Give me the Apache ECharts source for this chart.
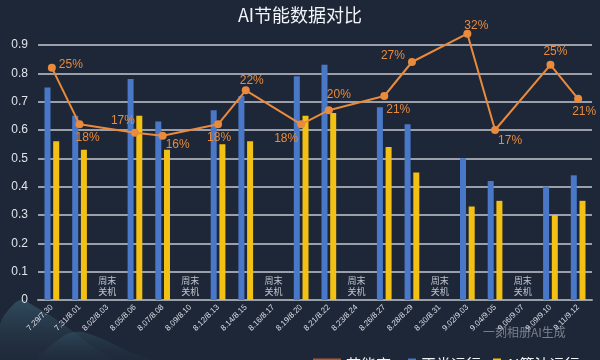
<!DOCTYPE html>
<html>
<head>
<meta charset="utf-8">
<script src="https://cdn.jsdelivr.net/npm/echarts@6/dist/echarts.min.js"></script>
<style>html,body{margin:0;padding:0;background:#1e2737;}#c{width:600px;height:360px;}</style>
</head>
<body>
<div id="c"></div>
<script>
const categories = ['7.29/7.30','7.31/8.01','8.02/8.03','8.05/8.06','8.07/8.08','8.09/8.10','8.12/8.13','8.14/8.15','8.16/8.17','8.19/8.20','8.21/8.22','8.23/8.24','8.26/8.27','8.28/8.29','8.30/8.31','9.02/9.03','9.04/9.05','9.06/9.07','9.09/9.10','9.11/9.12'];
const normalRun = [0.75,0.65,null,0.78,0.63,null,0.67,0.72,null,0.79,0.83,null,0.68,0.62,null,0.50,0.42,null,0.40,0.44];
const aiRun = [0.56,0.53,null,0.65,0.53,null,0.55,0.56,null,0.65,0.66,null,0.54,0.45,null,0.33,0.35,null,0.30,0.35];
const saveLine = [0.82,0.62,null,0.59,0.58,null,0.62,0.74,null,0.62,0.67,null,0.72,0.84,null,0.94,0.60,null,0.83,0.71];
const savePct = [25,18,null,17,16,null,18,22,null,18,20,null,21,27,null,32,17,null,25,21];
const offText = [null,null,'周末\n关机',null,null,'周末\n关机',null,null,'周末\n关机',null,null,'周末\n关机',null,null,'周末\n关机',null,null,'周末\n关机',null,null];

// label offsets (styling, px)
const lblOffset = [[19,-3],[8,13],null,[-12,-12],[15,9],null,[1,13],[6,-10],null,[-15,14],[10,-15],null,[14,14],[-19,-6],null,[9,-8],[15,11],null,[5,-13],[6,13]];

const chart = echarts.init(document.getElementById('c'), null, {renderer:'canvas'});
const lineData = saveLine.map((v,i)=> v==null ? null : {
  value: v,
  label: {show:true, position:'inside', offset: lblOffset[i], formatter: savePct[i] + '%'}
});
const offData = offText.map((t)=> t==null ? null : {value: 0.05, label:{formatter: t}});

const mountainGrad = new echarts.graphic.LinearGradient(0,0,0,1,[
  {offset:0,color:'rgba(70,120,140,0.45)'},{offset:1,color:'rgba(40,60,80,0.05)'}]);
const mountainGrad2 = new echarts.graphic.LinearGradient(0,0,0,1,[
  {offset:0,color:'rgba(60,105,125,0.35)'},{offset:1,color:'rgba(40,60,80,0.05)'}]);

chart.setOption({
  backgroundColor:'#1e2737',
  animation:false,
  title:{text:'AI节能数据对比', left:'center', top:1, textStyle:{color:'#f2f4f8', fontSize:18, fontWeight:'normal', fontFamily:'Noto Sans CJK SC'}},
  graphic:[
    {type:'polygon', z:-10, shape:{points:[[0,325],[12,306],[22,300],[34,306],[60,322],[90,345],[110,360],[0,360]], smooth:0.4}, style:{fill:mountainGrad}},
    {type:'polygon', z:-10, shape:{points:[[40,360],[58,340],[75,332],[95,336],[130,352],[150,360]], smooth:0.4}, style:{fill:mountainGrad2}},
    {type:'text', left:483, top:326, style:{text:'一刻相册AI生成', fill:'rgba(190,200,215,0.55)', fontSize:12, fontFamily:'Noto Sans CJK SC'}}
  ],
  legend:[
    {data:[{name:'节能率', icon:'rect', itemStyle:{color:'#a85a3a'}}], left:308, top:352, itemWidth:28, itemHeight:12, itemGap:10,
     textStyle:{color:'#f2f4f8', fontSize:15, fontFamily:'Noto Sans CJK SC'}},
    {data:[{name:'正常运行', icon:'rect'},{name:'AI算法运行', icon:'rect'}], left:403, top:352, itemWidth:8, itemHeight:12, itemGap:12,
     textStyle:{color:'#f2f4f8', fontSize:15, fontFamily:'Noto Sans CJK SC'}}
  ],
  grid:{left:38, right:8, top:45, bottom:60, containLabel:false},
  xAxis:{type:'category', data:categories,
    axisLine:{lineStyle:{color:'#9aa0aa', width:2}}, axisTick:{show:false},
    axisLabel:{rotate:45, fontSize:8, color:'#d8dce4', interval:0, margin:6, fontFamily:'Liberation Sans'}},
  yAxis:{type:'value', min:0, max:0.9, interval:0.1,
    axisLine:{show:false}, axisTick:{show:false},
    axisLabel:{color:'#dfe3ea', fontSize:12, margin:10, fontFamily:'Liberation Sans', formatter:(v)=> v===0?'0':v.toFixed(1)},
    splitLine:{lineStyle:{color:'#c4c8d0', width:1.5}}},
  series:[
    {name:'正常运行', type:'bar', data:normalRun, barWidth:6, barGap:'45%', itemStyle:{color:'#4a78c9'}, z:2},
    {name:'AI算法运行', type:'bar', data:aiRun, barWidth:6, itemStyle:{color:'#f3c114'}, z:2},
    {name:'节能率', type:'line', data:lineData, connectNulls:true, clip:false, symbol:'circle', symbolSize:8,
     lineStyle:{color:'#e98a3c', width:2}, itemStyle:{color:'#e98a3c'},
     label:{color:'#e98a3c', fontSize:12, fontFamily:'Liberation Sans'}, z:5},
    {name:'off', type:'scatter', data:offData, symbolSize:0, silent:true,
     label:{show:true, position:'inside', color:'#e6e9ef', fontSize:9, lineHeight:11, fontFamily:'Noto Sans CJK SC'}, z:4}
  ]
});
</script>
</body>
</html>
